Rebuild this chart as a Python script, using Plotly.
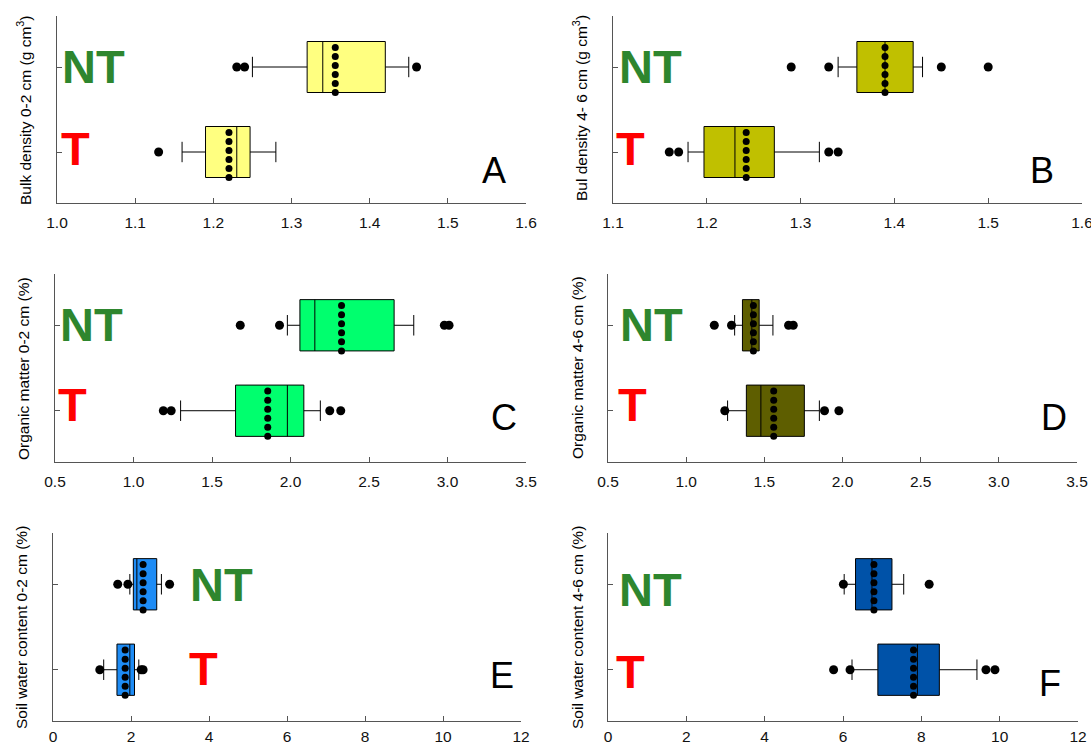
import numpy as np
import plotly.graph_objects as go

W, H = 1091, 744
groups = ["NT", "T"]
group_pos = [1, 0]

# ---- data (NT, T) ----
A_low = [1.25, 1.16]; A_q1 = [1.32, 1.19]; A_med = [1.34, 1.23]; A_q3 = [1.42, 1.247]; A_high = [1.45, 1.28]
A_mean = [1.356, 1.22]
A_out_NT = [1.23, 1.24, 1.46]; A_out_T = [1.13]

B_low = [1.34, 1.18]; B_q1 = [1.36, 1.197]; B_med = [1.39, 1.23]; B_q3 = [1.42, 1.272]; B_high = [1.43, 1.32]
B_mean = [1.39, 1.242]
B_out_NT = [1.29, 1.33, 1.45, 1.50]; B_out_T = [1.16, 1.17, 1.33, 1.34]

C_low = [1.98, 1.30]; C_q1 = [2.06, 1.65]; C_med = [2.155, 1.98]; C_q3 = [2.66, 2.085]; C_high = [2.785, 2.19]
C_mean = [2.325, 1.855]
C_out_NT = [1.68, 1.93, 2.98, 3.01]; C_out_T = [1.19, 1.24, 2.25, 2.32]

D_low = [1.31, 1.265]; D_q1 = [1.36, 1.385]; D_med = [1.42, 1.478]; D_q3 = [1.467, 1.756]; D_high = [1.555, 1.852]
D_mean = [1.43, 1.56]
D_out_NT = [1.18, 1.29, 1.655, 1.685]; D_out_T = [1.247, 1.885, 1.977]

E_low = [1.97, 1.30]; E_q1 = [2.06, 1.64]; E_med = [2.15, 1.97]; E_q3 = [2.66, 2.09]; E_high = [2.78, 2.20]
E_mean = [2.31, 1.85]
E_out_NT = [1.66, 1.92, 2.99]; E_out_T = [1.20, 2.26, 2.31]

F_low = [6.03, 6.23]; F_q1 = [6.32, 6.89]; F_med = [6.74, 7.90]; F_q3 = [7.25, 8.46]; F_high = [7.55, 9.42]
F_mean = [6.79, 7.80]
F_out_NT = [6.01, 8.20]; F_out_T = [5.76, 6.18, 9.65, 9.88]

y_titles = ["Bulk density 0-2 cm (g cm<sup>3</sup>)", "Bul density 4- 6 cm (g cm<sup>3</sup>)",
            "Organic matter 0-2 cm (%)", "Organic matter 4-6 cm (%)",
            "Soil water content 0-2 cm (%)", "Soil water content 4-6 cm (%)"]
panel_letters = ["A", "B", "C", "D", "E", "F"]
x_ranges = [[1.0, 1.6], [1.1, 1.6], [0.5, 3.5], [0.5, 3.5], [0, 12], [0, 12]]
x_dticks = [0.1, 0.1, 0.5, 0.5, 2, 2]
x_formats = [".1f", ".1f", ".1f", ".1f", "d", "d"]
fills = ["#FFFF80", "#C0C000", "#00FF6E", "#5E5E00", "#1E8CF5", "#0052A8"]

panels = [
    (A_low, A_q1, A_med, A_q3, A_high, A_mean, A_out_NT, A_out_T),
    (B_low, B_q1, B_med, B_q3, B_high, B_mean, B_out_NT, B_out_T),
    (C_low, C_q1, C_med, C_q3, C_high, C_mean, C_out_NT, C_out_T),
    (D_low, D_q1, D_med, D_q3, D_high, D_mean, D_out_NT, D_out_T),
    (E_low, E_q1, E_med, E_q3, E_high, E_mean, E_out_NT, E_out_T),
    (F_low, F_q1, F_med, F_q3, F_high, F_mean, F_out_NT, F_out_T),
]

# ---- layout geometry (pixels) ----
x_px = [(57, 526), (613, 1082), (55, 526), (608, 1077), (53, 521), (608, 1078)]
y_px = [(16, 203), (16, 203), (274, 462), (274, 462), (533, 721), (533, 721)]
label_standoff = [5, 5, 5, 5, 1, 1]
ytitle_xy = [(24, 110), (580, 108), (23, 369), (577, 368), (21, 628), (577, 628)]
nt_xy = [(93, 66), (650, 66), (92, 324), (651, 324), (221, 584), (650, 589)]
t_xy = [(75, 148), (630, 148), (72, 405), (632, 405), (203, 668), (630, 671)]
letter_xy = [(494, 170), (1042, 170), (504, 418), (1054, 418), (502, 675), (1050, 683)]

BOX_W = 0.6
dot_offsets = np.linspace(-0.3, 0.23, 6)

fig = go.Figure()
layout = dict(width=W, height=H, margin=dict(l=0, r=0, t=0, b=0, autoexpand=False),
              paper_bgcolor="white", plot_bgcolor="white", showlegend=False,
              font=dict(family="Liberation Sans, Arial", color="black"))
annotations = []
axis_line = "#555555"

for i, (low, q1, med, q3, high, mean, out_nt, out_t) in enumerate(panels):
    k = i + 1
    xa = "x" if k == 1 else f"x{k}"
    ya = "y" if k == 1 else f"y{k}"
    fig.add_trace(go.Box(
        y=group_pos, q1=q1, median=med, q3=q3, lowerfence=low, upperfence=high,
        orientation="h", width=BOX_W, whiskerwidth=0.4, boxpoints=False,
        fillcolor=fills[i], line=dict(color="black", width=1),
        xaxis=xa, yaxis=ya, hoverinfo="skip"))
    # mean as dotted column
    for gpos, m in zip(group_pos, mean):
        fig.add_trace(go.Scatter(
            x=[m] * len(dot_offsets), y=gpos + dot_offsets, mode="markers",
            marker=dict(color="black", size=7), xaxis=xa, yaxis=ya,
            hoverinfo="skip", cliponaxis=False))
    # outliers
    for gpos, outs in zip(group_pos, [out_nt, out_t]):
        fig.add_trace(go.Scatter(
            x=outs, y=[gpos] * len(outs), mode="markers",
            marker=dict(color="black", size=9), xaxis=xa, yaxis=ya,
            hoverinfo="skip", cliponaxis=False))

    x0, x1 = x_px[i]
    yt, yb = y_px[i]
    layout["xaxis" if k == 1 else f"xaxis{k}"] = dict(
        domain=[x0 / W, x1 / W], anchor=ya, range=x_ranges[i], dtick=x_dticks[i],
        tick0=x_ranges[i][0], tickformat=x_formats[i], showgrid=False, zeroline=False,
        showline=True, linecolor=axis_line, linewidth=1.3, ticks="inside", ticklen=5,
        tickcolor=axis_line, tickwidth=1.3, tickfont=dict(size=15.5, color="#111111"),
        ticklabelstandoff=label_standoff[i], ticklabeloverflow="allow",
        automargin=False, fixedrange=True)
    layout["yaxis" if k == 1 else f"yaxis{k}"] = dict(
        domain=[1 - yb / H, 1 - yt / H], anchor=xa, range=[-0.6, 1.6],
        tickvals=group_pos, showticklabels=False, showgrid=False, zeroline=False,
        showline=True, linecolor=axis_line, linewidth=1.3, ticks="inside", ticklen=5,
        tickcolor=axis_line, tickwidth=1.3, automargin=False, fixedrange=True)

    tx, ty = ytitle_xy[i]
    annotations.append(dict(x=tx / W, y=1 - ty / H, xref="paper", yref="paper",
                            text=y_titles[i], textangle=-90, showarrow=False,
                            font=dict(size=15.5, color="black"), xanchor="center", yanchor="middle"))
    nx, ny = nt_xy[i]
    annotations.append(dict(x=nx / W, y=1 - ny / H, xref="paper", yref="paper",
                            text="<b>" + groups[0] + "</b>", showarrow=False,
                            font=dict(size=47, color="#2E862E"), xanchor="center", yanchor="middle"))
    sx, sy = t_xy[i]
    annotations.append(dict(x=sx / W, y=1 - sy / H, xref="paper", yref="paper",
                            text="<b>" + groups[1] + "</b>", showarrow=False,
                            font=dict(size=47, color="#FF0000"), xanchor="center", yanchor="middle"))
    lx, ly = letter_xy[i]
    annotations.append(dict(x=lx / W, y=1 - ly / H, xref="paper", yref="paper",
                            text=panel_letters[i], showarrow=False,
                            font=dict(size=36, color="black"), xanchor="center", yanchor="middle"))

layout["annotations"] = annotations
fig.update_layout(**layout)
fig.write_html("out.html")
